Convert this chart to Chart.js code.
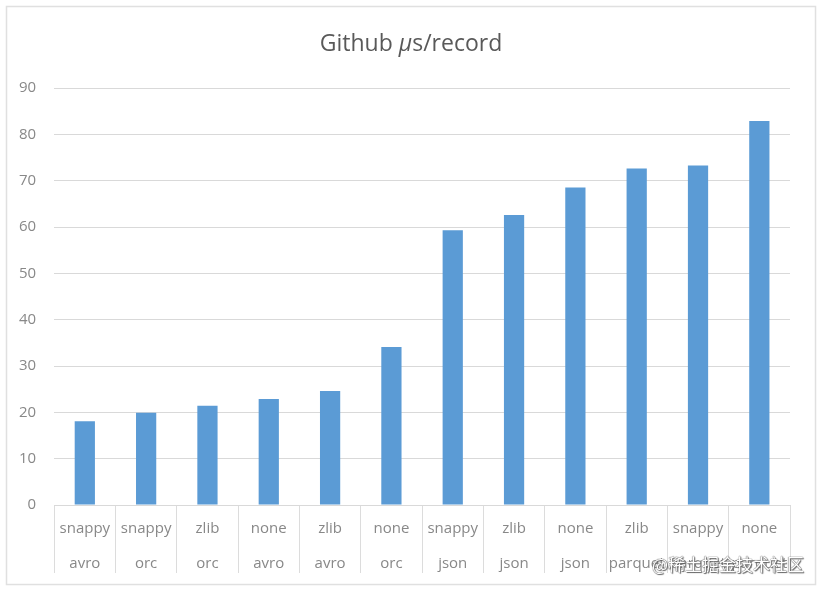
<!DOCTYPE html>
<html>
<head>
<meta charset="utf-8">
<script src="https://cdn.jsdelivr.net/npm/chart.js@4"></script>
<style>
  html, body { margin: 0; padding: 0; background: #fff; }
  #wrap { position: relative; width: 824px; height: 590px; }
  #watermark {
    position: absolute; left: 652px; top: 551px;
    font-family: "Noto Sans CJK SC", sans-serif; font-size: 17px;
    color: #fff; white-space: nowrap;
    text-shadow: 0 0 1px #555, 0 0 1px #555, 1px 1px 1px #666;
  }
</style>
</head>
<body>
<div id="wrap">
  <canvas id="chart" width="824" height="590"></canvas>
  <div id="watermark">@稀土掘金技术社区</div>
</div>
<script>
// data
const codecs = ['snappy', 'snappy', 'zlib', 'none', 'zlib', 'none', 'snappy', 'zlib', 'none', 'zlib', 'snappy', 'none'];
const formats = ['avro', 'orc', 'orc', 'avro', 'avro', 'orc', 'json', 'json', 'json', 'parquet', 'parquet', 'parquet'];
const usPerRecord = [18.1, 19.9, 21.4, 22.9, 24.6, 34.1, 59.3, 62.6, 68.5, 72.6, 73.3, 82.9];
const yTicks = [0, 10, 20, 30, 40, 50, 60, 70, 80, 90];

const labels = codecs.map((c, i) => [c, formats[i]]);

// title with italic mu + outer frame
const decorPlugin = {
    id: 'decor',
    beforeDraw(chart) {
        const ctx = chart.ctx;
        ctx.save();
        ctx.strokeStyle = '#e0e0e0';
        ctx.lineWidth = 1.5;
        ctx.strokeRect(6.5, 6.5, 809, 578);
        ctx.restore();
    },
    afterDraw(chart) {
        const ctx = chart.ctx;
        const parts = [
            { t: 'Github ', f: '23px "Open Sans"' },
            { t: 'μ', f: 'italic 23px "Open Sans"' },
            { t: 's/record', f: '23px "Open Sans"' }
        ];
        ctx.save();
        let total = 0;
        parts.forEach(p => { ctx.font = p.f; p.w = ctx.measureText(p.t).width; total += p.w; });
        let x = 411 - total / 2;
        ctx.fillStyle = '#595959';
        ctx.textBaseline = 'middle';
        parts.forEach(p => { ctx.font = p.f; ctx.fillText(p.t, x, 44); x += p.w; });
        ctx.restore();
    }
};

const ctx = document.getElementById('chart').getContext('2d');
const chart = new Chart(ctx, {
    type: 'bar',
    data: {
        labels: labels,
        datasets: [{
            label: 'Github us/record',
            data: usPerRecord,
            backgroundColor: '#5b9bd5',
            borderWidth: 0,
            barPercentage: 0.33,
            categoryPercentage: 1
        }]
    },
    options: {
        responsive: false,
        animation: false,
        layout: {
            padding: { left: 1, right: 34, top: 88, bottom: 15 }
        },
        scales: {
            y: {
                min: 0,
                max: 90,
                afterBuildTicks: (scale) => { scale.ticks = yTicks.map(v => ({ value: v })); },
                grid: { color: '#d9d9d9', drawTicks: false },
                border: { display: false },
                ticks: {
                    color: '#888888',
                    padding: 18,
                    font: { family: 'Open Sans', size: 15 }
                }
            },
            x: {
                offset: true,
                grid: {
                    offset: true,
                    drawOnChartArea: false,
                    tickLength: 68,
                    color: '#dcdcdc'
                },
                border: { display: true, color: '#d9d9d9' },
                ticks: {
                    color: '#888888',
                    padding: -62,
                    maxRotation: 0,
                    autoSkip: false,
                    font: { family: 'Open Sans', size: 15, lineHeight: 2.35 }
                },
                afterFit: (scale) => { scale.height = 70; }
            }
        },
        plugins: {
            legend: { display: false },
            title: { display: false },
            tooltip: { enabled: false }
        }
    },
    plugins: [decorPlugin]
});
</script>
</body>
</html>
